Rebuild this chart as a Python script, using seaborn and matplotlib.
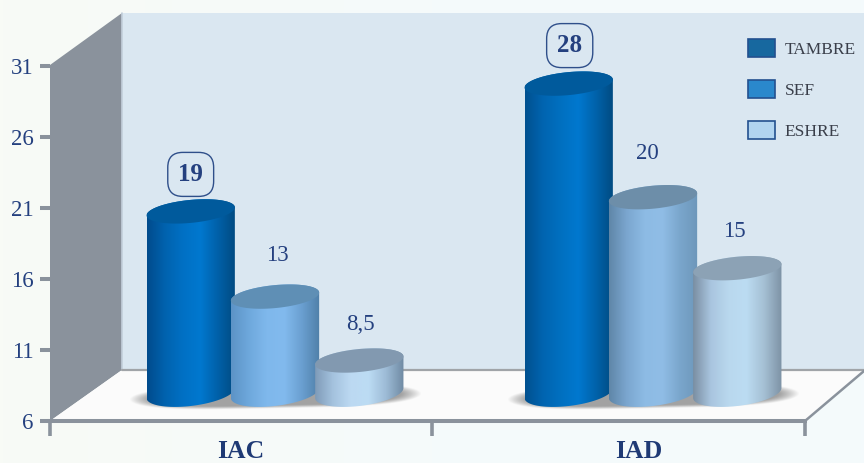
import numpy as np
import pandas as pd
import matplotlib
matplotlib.use("Agg")
import matplotlib.pyplot as plt
import seaborn as sns
from matplotlib.colors import LinearSegmentedColormap
from matplotlib.path import Path
from matplotlib.patches import PathPatch, Polygon

# ---------- data ----------
groups = ["IAC", "IAD"]
series = ["TAMBRE", "SEF", "ESHRE"]
tambre = [19, 28]
sef = [13, 20]
eshre = [8.5, 15]
y_ticks = [6, 11, 16, 21, 26, 31]
highlighted = ["19", "28"]

# ---------- style ----------
W, H = 864, 463
sns.set_theme(style="white")
plt.rcParams["font.family"] = ["Liberation Serif", "DejaVu Serif"]
INK = "#24407f"
GREY = "#8a929c"
legend_colors = {"TAMBRE": "#17689f", "SEF": "#2a88cc", "ESHRE": "#b0d4f0"}
# body gradient stops, top-ellipse colour: [series][group]
shades = {
    "TAMBRE": [(["#004b8c", "#0062ae", "#0070c4", "#0078cf", "#0060a8", "#004a80"], "#005a9c"),
               (["#00508f", "#0064b0", "#0070c0", "#0078cf", "#0062aa", "#004a80"], "#005a9c")],
    "SEF": [(["#5c93c6", "#6ea8dc", "#7fb8ec", "#82baee", "#6a9fd0", "#4f7fa8"], "#5f8fb5"),
            (["#5f86a8", "#7ba6cf", "#8dbbe4", "#90bde6", "#7aa6cc", "#6d97ba"], "#6d8ea9")],
    "ESHRE": [(["#7f9bb8", "#a4c2de", "#bcd9f2", "#bcdcf4", "#9dbbd6", "#6f8aa3"], "#8299b0"),
              (["#7a8ea2", "#a9c5df", "#b9d8ee", "#bcdcf2", "#a5c0d4", "#7d92a5"], "#8ca2b5")],
}
# label offsets from the bar top, in pixels: [series][group]
label_offsets = {
    "TAMBRE": [(0, 37), (1, 38)],
    "SEF": [(2, 41), (-6, 44)],
    "ESHRE": [(1, 36), (-3, 37)],
}

long = pd.DataFrame({
    "group": groups * 3,
    "series": [s for s in series for _ in groups],
    "value": tambre + sef + eshre,
})

fig = plt.figure(figsize=(W / 100, H / 100), dpi=100)


def axes_px(x0, x1, y_top, y_bottom, **kw):
    return fig.add_axes([x0 / W, 1 - y_bottom / H, (x1 - x0) / W, (y_bottom - y_top) / H], **kw)


# pixel canvas for the painted 3D box and cylinders
px = axes_px(0, W, 0, H, zorder=0)
px.set_axis_off()

bg = LinearSegmentedColormap.from_list("bg", ["#f8fbf6", "#f5fafb", "#f4fafc"])
px.imshow(np.linspace(0, 1, 256)[None, :], cmap=bg, extent=(0, W, H, 0), aspect="auto", zorder=0)
px.add_patch(Polygon([(122, 13), (W, 13), (W, 370), (122, 370)], fc="#dae7f1", ec="none", zorder=1))
px.add_patch(Polygon([(50, 65), (122, 13), (122, 370), (50, 421)], fc=GREY, ec="none", zorder=2))
px.plot([122, 122], [13, 370], color="#c3cfdb", lw=1.2, zorder=2)
px.add_patch(Polygon([(122, 370), (W, 370), (805, 421), (50, 421)], fc="#fbfbfb", ec="none", zorder=2))
px.plot([122, W], [369.5, 369.5], color="#a0a4a8", lw=1.6, zorder=3)
px.plot([805, W], [421, 371], color=GREY, lw=1.8, zorder=3)

# front axis: scale ticks and group labels
front = axes_px(50, 805, 66, 421, zorder=2)
front.patch.set_alpha(0)
front.set_ylim(6, 31)
front.set_xlim(50, 805)
front.set_yticks(y_ticks)
front.set_xticks([50, 432, 805])
front.set_xticklabels([])
front.set_xticks([241, 639], minor=True)
front.set_xticklabels(groups, minor=True, fontsize=18.5, fontweight="bold", color="#1f3a75")
front.tick_params(axis="y", length=7.5, width=2.9, color=GREY, labelsize=16.5, labelcolor=INK, pad=4.5, left=True)
front.tick_params(axis="x", which="major", length=11, width=2.6, color=GREY, bottom=True)
front.tick_params(axis="x", which="minor", length=0, pad=14)
for side in ["top", "right", "left"]:
    front.spines[side].set_visible(False)
front.spines["bottom"].set_color(GREY)
front.spines["bottom"].set_linewidth(2.9)

# bars sit on the floor, further back than the front axis
bars = axes_px(50, 805, 41, 396, zorder=3)
bars.patch.set_alpha(0)
sns.barplot(data=long, x="group", y="value", hue="series", order=groups, hue_order=series,
            palette=legend_colors, width=0.669, saturation=1, ax=bars)
bars.set_ylim(6, 31)
bars.set_xlim((50 - 275) / 378, (805 - 275) / 378)
bars.set_xlabel("")
bars.set_ylabel("")
sns.move_legend(bars, "upper left", bbox_to_anchor=((748 - 50) / 755, (396 - 39) / 355), title=None,
                frameon=False, fontsize=12.5, handlelength=1.55, handleheight=1.25, labelspacing=1.27,
                handletextpad=0.55, borderpad=0, borderaxespad=0)
leg = bars.get_legend()
for h in leg.legend_handles:
    h.set_edgecolor("#23508f")
    h.set_linewidth(1.2)
for t in leg.get_texts():
    t.set_color("#3a3f4a")
for sp in bars.spines.values():
    sp.set_visible(False)
bars.set_xticks([])
bars.set_yticks([])
fig.canvas.draw()


def to_px(x, y):
    dx, dy = bars.transData.transform((x, y))
    return dx, H - dy


# floor shadows, one under each group
for g in range(len(groups)):
    rects = [bars.containers[s][g] for s in range(len(series))]
    x0 = to_px(rects[0].get_x(), 6)[0] - 20
    x1 = to_px(rects[-1].get_x() + rects[-1].get_width(), 6)[0] + 20
    xs = np.linspace(x0, x1, 240)
    ys = np.linspace(378, 412, 68)
    xx, yy = np.meshgrid(xs, ys)
    d = np.abs((xx - (x0 + x1) / 2) / ((x1 - x0) / 2)) ** 4 + ((yy - 396.5 + (xx - x0) / (x1 - x0) * 6 - 3) / 12) ** 2
    rgba = np.zeros(d.shape + (4,))
    rgba[..., :3] = 0.5
    rgba[..., 3] = 0.72 * np.clip((1 - d) / 0.45, 0, 1)
    px.imshow(rgba, extent=(x0, x1, 412, 378), aspect="auto", zorder=4, interpolation="bilinear")


# cylinders, left to right so that each one overlaps its neighbour
def rim(cx, cy, a, b, s, t):
    return np.column_stack([cx + a * np.cos(t), cy + b * np.sin(t) - s * np.cos(t)])


for g in range(len(groups)):
    for si, name in enumerate(series):
        rect = bars.containers[si][g]
        left, right = rect.get_x(), rect.get_x() + rect.get_width()
        value = rect.get_height()
        xa, ytop = to_px(left, value)
        xb, ybase = to_px(right, 6)
        cx, a = (xa + xb) / 2, (xb - xa) / 2 + 2
        ybot = ybase - 3
        body = np.vstack([
            rim(cx, ybot, a, 13, 5, np.linspace(np.pi, 0, 60)),
            rim(cx, ytop, a, 11.5, 4, np.linspace(0, -np.pi, 60)),
        ])
        z = 5 + g * 3 + si * 0.1
        stops, top_col = shades[name][g]
        cmap = LinearSegmentedColormap.from_list(f"c{g}{si}", stops)
        im = px.imshow(np.linspace(0, 1, 256)[None, :], cmap=cmap, aspect="auto", zorder=z,
                       extent=(cx - a, cx + a, ybot + 16, ytop - 14))
        clip = PathPatch(Path(np.vstack([body, body[0]]), closed=True), transform=px.transData)
        im.set_clip_path(clip)
        px.add_patch(Polygon(rim(cx, ytop, a, 11.5, 4, np.linspace(0, 2 * np.pi, 120)),
                             fc=top_col, ec="none", zorder=z + 0.01))

        text = f"{value:g}".replace(".", ",")
        dx, dy = label_offsets[name][g]
        boxed = text in highlighted
        bars.annotate(text, xy=((left + right) / 2, value), xytext=(dx, dy), textcoords="offset pixels",
                      ha="center", va="center", color=INK, annotation_clip=False,
                      fontsize=18 if boxed else 16.5, fontweight="bold" if boxed else "normal",
                      bbox=dict(boxstyle="round,pad=0.42,rounding_size=0.6", fc="none", ec="#2f4f8a", lw=1)
                      if boxed else None)
        rect.set_visible(False)

px.set_xlim(0, W)
px.set_ylim(H, 0)
fig.savefig("out.png", dpi=100)
